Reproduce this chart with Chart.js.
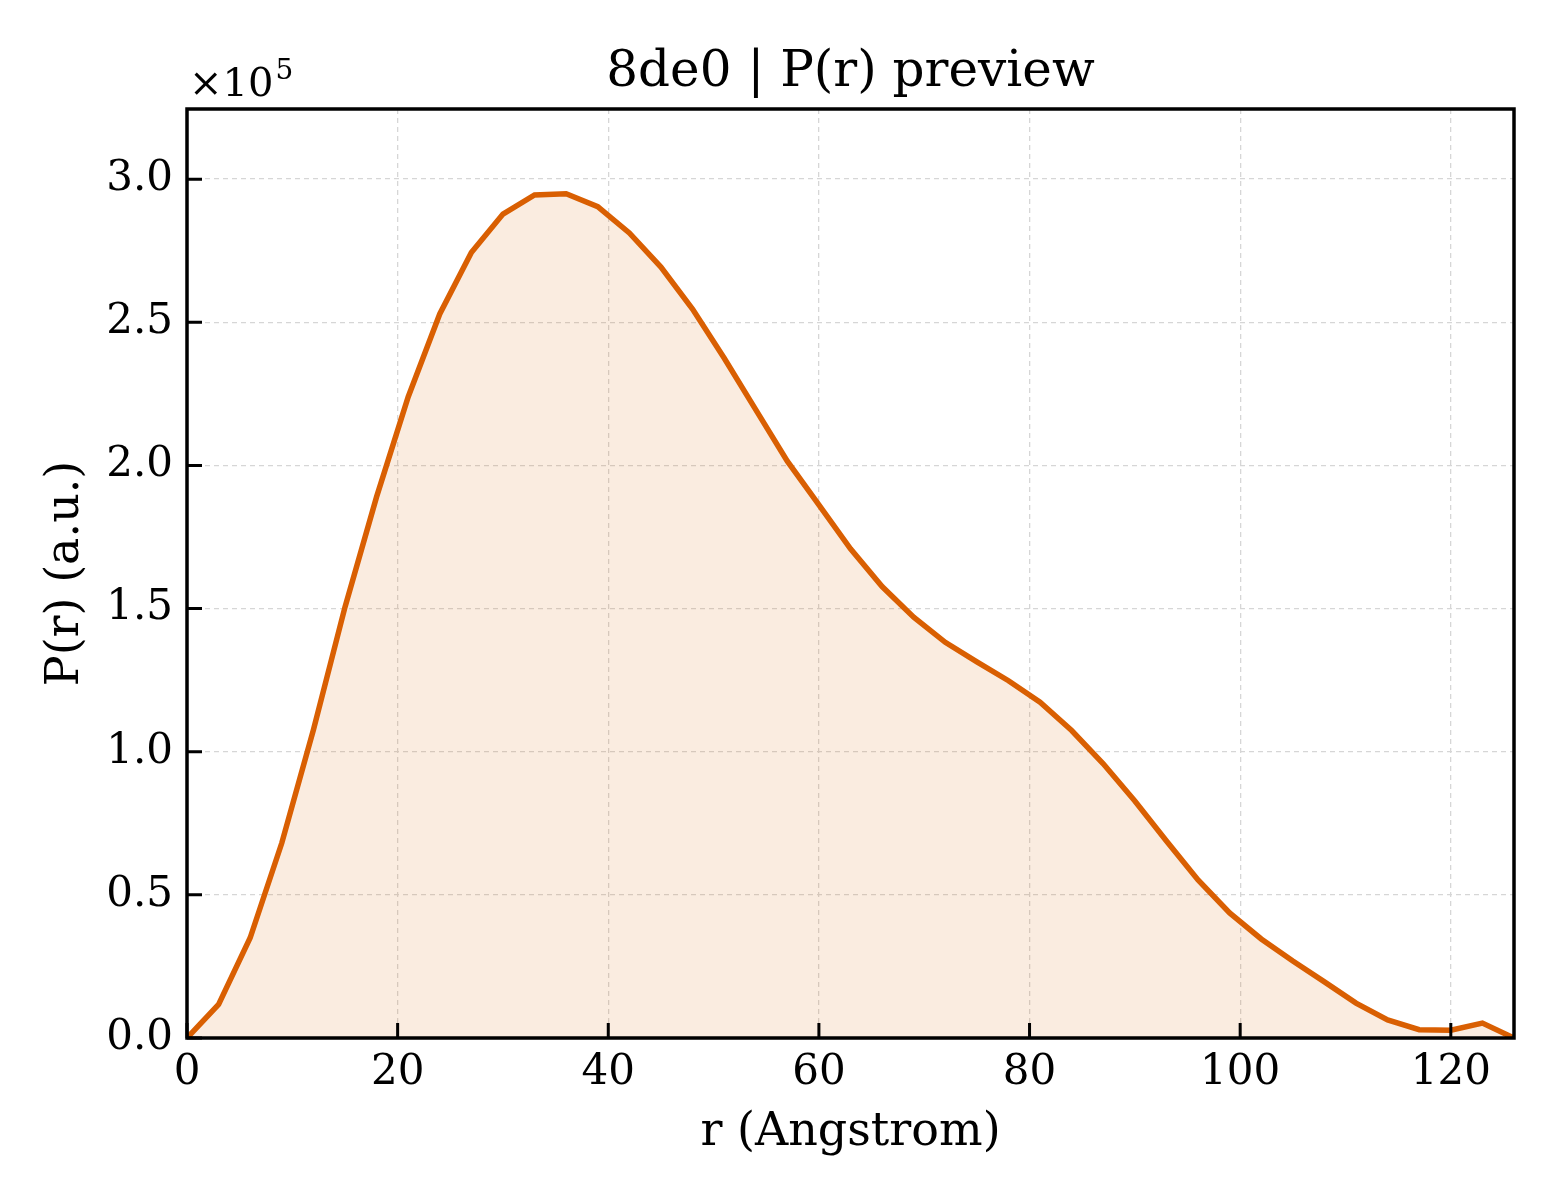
<!DOCTYPE html>
<html lang="en">
<head>
  <meta charset="UTF-8">
  <title>8de0 | P(r) preview</title>
  <script src="https://cdn.jsdelivr.net/npm/chart.js"></script>
  <style>
    html, body { margin: 0; padding: 0; background: #fff; }
    canvas { display: block; }
  </style>
</head>
<body>
  <canvas id="grafico" width="1560" height="1200"></canvas>
  <script>
    // r in Angstrom, P(r) in arbitrary units
    const rValues = [0, 3, 6, 9, 12, 15, 18, 21, 24, 27, 30, 33, 36, 39, 42, 45, 48, 51, 54, 57, 60,
      63, 66, 69, 72, 75, 78, 81, 84, 87, 90, 93, 96, 99, 102, 105, 108, 111, 114, 117, 120, 123, 126];
    const pValues = [0, 11700, 35000, 68100, 107600, 150500, 189000, 223900, 252900, 274400, 287800,
      294500, 294900, 290400, 281200, 269300, 254600, 237500, 219500, 201500, 186200,
      170900, 157700, 147000, 138200, 131400, 124800, 117300, 107400, 95800, 82800,
      68800, 55200, 43700, 34600, 26900, 19600, 12200, 6300, 2900, 2700, 5200, 0];
    const xTicks = [0, 20, 40, 60, 80, 100, 120];
    const yTicks = [0, 50000, 100000, 150000, 200000, 250000, 300000];

    const serif = "'DejaVu Serif', 'Liberation Serif', serif";
    const orange = 'rgb(217, 95, 2)';

    // frame, inward ticks, title and offset label like matplotlib
    const marcoPlugin = {
      id: 'marco',
      afterDraw(chart) {
        const { ctx, chartArea: a, scales } = chart;
        ctx.save();
        ctx.strokeStyle = '#000';
        ctx.lineWidth = 3.5;
        ctx.strokeRect(a.left, a.top, a.right - a.left, a.bottom - a.top);
        ctx.lineWidth = 3;
        ctx.beginPath();
        xTicks.forEach(v => {
          const px = scales.x.getPixelForValue(v);
          ctx.moveTo(px, a.bottom);
          ctx.lineTo(px, a.bottom - 15);
        });
        yTicks.forEach(v => {
          const py = scales.y.getPixelForValue(v);
          ctx.moveTo(a.left, py);
          ctx.lineTo(a.left + 15, py);
        });
        ctx.stroke();

        ctx.fillStyle = '#000';
        ctx.textBaseline = 'alphabetic';
        ctx.textAlign = 'center';
        ctx.font = '50px ' + serif;
        ctx.fillText('8de0 | P(r) preview', (a.left + a.right) / 2, 86);

        ctx.textAlign = 'left';
        ctx.font = '40px ' + serif;
        ctx.fillText('\u00d710', 189, 96);
        const w = ctx.measureText('\u00d710').width;
        ctx.font = '28px ' + serif;
        ctx.fillText('5', 189 + w + 2, 79);
        ctx.restore();
      }
    };

    const ctx = document.getElementById('grafico').getContext('2d');
    new Chart(ctx, {
      type: 'line',
      data: {
        datasets: [{
          data: rValues.map((r, i) => ({ x: r, y: pValues[i] })),
          borderColor: orange,
          borderWidth: 5.5,
          backgroundColor: 'rgba(217, 95, 2, 0.12)',
          fill: 'origin',
          pointRadius: 0,
          tension: 0
        }]
      },
      options: {
        responsive: false,
        animation: false,
        layout: { padding: { top: 109, right: 46, left: 0, bottom: 0 } },
        plugins: {
          legend: { display: false },
          tooltip: { enabled: false }
        },
        scales: {
          x: {
            type: 'linear',
            min: 0,
            max: 126,
            afterBuildTicks: s => { s.ticks = xTicks.map(v => ({ value: v })); },
            afterFit: s => { s.height = 162; },
            ticks: {
              font: { family: serif, size: 42 },
              color: '#000',
              padding: 10,
              maxRotation: 0,
              callback: v => String(v)
            },
            grid: {
              color: '#d6d6d6',
              lineWidth: 1.3,
              drawTicks: false
            },
            border: { display: false, dash: [5, 4] },
            title: {
              display: true,
              text: 'r (Angstrom)',
              font: { family: serif, size: 46 },
              color: '#000',
              padding: { top: 0, bottom: 39 }
            }
          },
          y: {
            type: 'linear',
            min: 0,
            max: 324500,
            afterBuildTicks: s => { s.ticks = yTicks.map(v => ({ value: v })); },
            afterFit: s => { s.width = 187; },
            ticks: {
              font: { family: serif, size: 42 },
              color: '#000',
              padding: 14,
              callback: v => (v / 1e5).toFixed(1)
            },
            grid: {
              color: '#d6d6d6',
              lineWidth: 1.3,
              drawTicks: false
            },
            border: { display: false, dash: [5, 4] },
            title: {
              display: true,
              text: 'P(r) (a.u.)',
              font: { family: serif, size: 46 },
              color: '#000',
              padding: { top: 38, bottom: 0 }
            }
          }
        }
      },
      plugins: [marcoPlugin]
    });
  </script>
</body>
</html>
